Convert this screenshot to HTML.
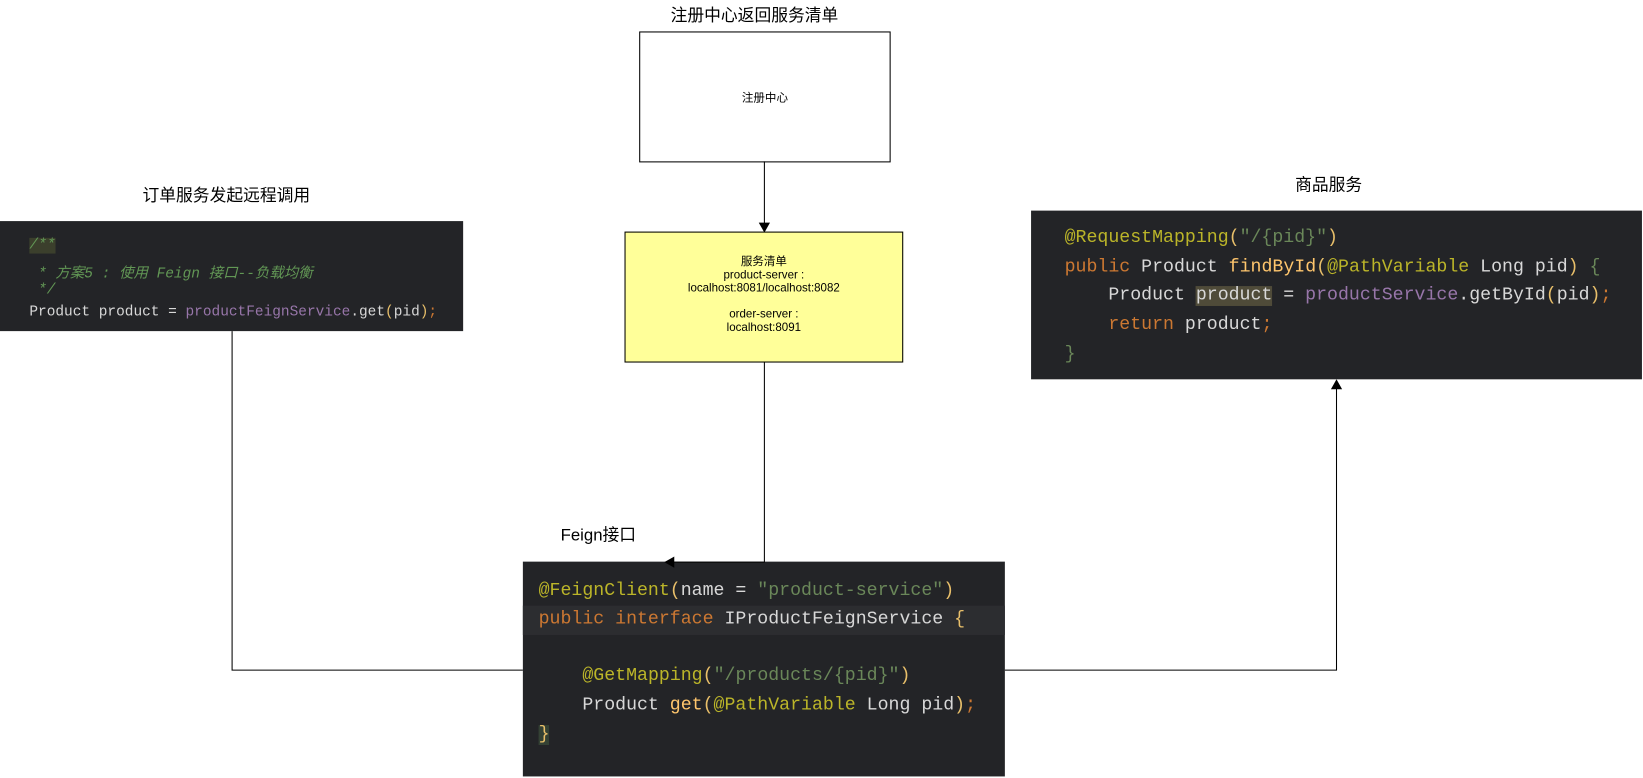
<!DOCTYPE html>
<html><head><meta charset="utf-8"><style>
body{margin:0;width:1643px;height:777px;background:#fff;position:relative;overflow:hidden;font-family:"Liberation Sans","Noto Sans CJK SC",sans-serif}
#w{position:absolute;left:0;top:0;width:1568px;height:742px;transform:scale(1.04783);transform-origin:0 0}
.t{position:absolute;font-size:16px;color:#000;white-space:nowrap}
.code{position:absolute;background:#232427;font-family:"Liberation Mono","Noto Sans CJK SC",monospace;white-space:pre;color:#c9d1d9}
.ln{position:absolute;left:0;white-space:pre}
.y{color:#bbb529}.o{color:#cc7832}.g{color:#6a8759}.p{color:#9876aa}.w{color:#d8d8d8}.f{color:#ffc66d}.br{color:#e8bf6a}.c{color:#629755;font-style:italic}
</style></head><body><div id="w">
<div class="t" style="left:640px;top:1px">注册中心返回服务清单</div>
<div style="position:absolute;left:610px;top:30px;width:238px;height:123px;border:1px solid #000;display:flex;align-items:center;justify-content:center;font-size:11px">注册中心</div>
<div style="position:absolute;left:596px;top:221px;width:266px;border:1px solid #000;background:#ffff99;text-align:center;font-size:11px;line-height:12.5px;padding-top:22px;box-sizing:border-box;height:125px">服务清单<br>product-server :<br>localhost:8081/localhost:8082<br><br>order-server :<br>localhost:8091</div>
<div class="t" style="left:136px;top:173px">订单服务发起远程调用</div>
<div class="t" style="left:1236px;top:163px">商品服务</div>
<div class="t" style="left:535px;top:497px">Feign接口</div>

<div class="code" style="left:0;top:211px;width:442px;height:105px;font-size:13.8px">
<div class="ln c" style="left:28px;top:16px"><span style="background:#3b3f2c">/**</span></div>
<div class="ln c" style="left:28px;top:38px"> * 方案5 : 使用 Feign 接口--负载均衡</div>
<div class="ln c" style="left:28px;top:59px"> */</div>
<div class="ln w" style="left:28px;top:80px">Product product = <span class="p">productFeignService</span>.get<span class="br">(</span>pid<span class="br">)</span><span class="o">;</span></div>
</div>

<div class="code" style="left:984px;top:201px;width:583px;height:161px;font-size:17.4px">
<div class="ln" style="left:32px;top:17px"><span class="y">@RequestMapping</span><span class="br">(</span><span class="g">"/{pid}"</span><span class="br">)</span></div>
<div class="ln" style="left:32px;top:45px"><span class="o">public</span><span class="w"> Product </span><span class="f">findById</span><span class="br">(</span><span class="y">@PathVariable</span><span class="w"> Long pid</span><span class="br">)</span> <span class="g">{</span></div>
<div class="ln w" style="left:32px;top:72px">    Product <span style="background:#4f4b39">product</span> = <span class="p">productService</span>.getById<span class="br">(</span>pid<span class="br">)</span><span class="o">;</span></div>
<div class="ln w" style="left:32px;top:100px">    <span class="o">return</span> product<span class="o">;</span></div>
<div class="ln g" style="left:32px;top:128px">}</div>
</div>

<div class="code" style="left:499px;top:536px;width:460px;height:205px;font-size:17.4px">
<div style="position:absolute;left:0;top:42px;width:460px;height:28px;background:#2c2d30"></div>
<div class="ln" style="left:15px;top:19px"><span class="y">@FeignClient</span><span class="br">(</span><span class="w">name = </span><span class="g">"product-service"</span><span class="br">)</span></div>
<div class="ln" style="left:15px;top:46px"><span class="o">public interface </span><span class="w">IProductFeignService </span><span class="br">{</span></div>
<div class="ln" style="left:15px;top:100px">    <span class="y">@GetMapping</span><span class="br">(</span><span class="g">"/products/{pid}"</span><span class="br">)</span></div>
<div class="ln w" style="left:15px;top:128px">    Product <span class="f">get</span><span class="br">(</span><span class="y">@PathVariable</span> Long pid<span class="br">)</span><span class="o">;</span></div>
<div class="ln br" style="left:15px;top:156px;background:#344134">}</div>
</div>

<svg width="1568" height="742" style="position:absolute;left:0;top:0" fill="none" stroke="#000" stroke-width="1">
<path d="M729.5 154V215"/><path d="M725 213L729.5 221L734 213Z" fill="#000"/>
<path d="M729.5 345V536.5H641"/><path d="M643 532L635 536.5L643 541Z" fill="#000"/>
<path d="M221.5 316V639.5H499"/>
<path d="M959 639.5H1275.5V369"/><path d="M1271 371L1275.5 363L1280 371Z" fill="#000"/>
</svg>
</div></body></html>
